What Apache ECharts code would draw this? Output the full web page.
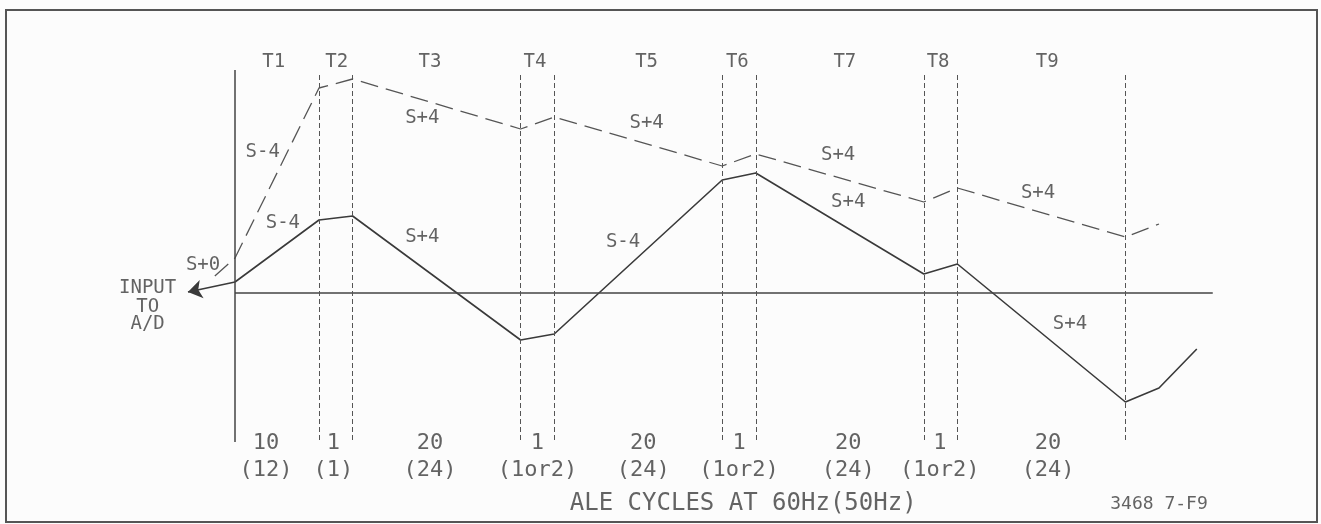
<!DOCTYPE html>
<html>
<head>
<meta charset="utf-8">
<script src="https://cdn.jsdelivr.net/npm/echarts@6/dist/echarts.min.js"></script>
<style>
  html, body { margin: 0; padding: 0; background: #fcfcfc; }
  #chart { width: 1321px; height: 524px; }
</style>
</head>
<body>
<div id="chart"></div>
<script>
  // x in layout units (1 ALE cycle of a long phase = 1 unit, short phases drawn 4 units wide)
  // y in arbitrary integrator units, 0 = baseline
  const boundaryX = [10, 14, 34, 38, 58, 62, 82, 86, 106]
  const solidX = [0, 10, 14, 34, 38, 58, 62, 82, 86, 106, 110, 114.5]
  const solidY = [11, 73, 77, -47, -41, 113, 120, 19, 29, -109, -95, -56]
  const dashX = [-2.4, 0, 10, 14, 34, 38, 58, 62, 82, 86, 106, 110]
  const dashY = [17, 35, 205, 214, 164, 176, 127, 139, 91, 105, 56, 69]
  const arrowFrom = [0, 11]
  const arrowTo = [-5.6, 1]

  const phaseNames = ['T1', 'T2', 'T3', 'T4', 'T5', 'T6', 'T7', 'T8', 'T9']
  const phaseX = [4.6, 12.1, 23.2, 35.7, 49, 59.8, 72.6, 83.7, 96.7]
  const cycles60 = ['10', '1', '20', '1', '20', '1', '20', '1', '20']
  const cycles50 = ['(12)', '(1)', '(24)', '(1or2)', '(24)', '(1or2)', '(24)', '(1or2)', '(24)']
  const cyclesX = [3.7, 11.7, 23.2, 36, 48.6, 60, 73, 83.9, 96.8]

  const slopeText = ['S+0', 'S-4', 'S-4', 'S+4', 'S+4', 'S+4', 'S-4', 'S+4', 'S+4', 'S+4', 'S+4']
  const slopeX = [-3.8, 3.3, 5.7, 22.3, 22.3, 49, 46.2, 71.8, 73, 95.6, 99.4]
  const slopeY = [28, 141, 70, 175, 56, 170, 51, 138, 91, 100, -31]

  const inputText = ['INPUT', 'TO', 'A/D']
  const inputY = [5, -14, -31]

  const FONT = '"DejaVu Sans Mono", monospace'
  const INK = '#3c3c3c'

  function textSeries (points, size) {
    return {
      type: 'scatter',
      symbolSize: 0,
      silent: true,
      data: points.map(p => ({ value: [p[0], p[1]], name: p[2] })),
      label: {
        show: true,
        position: 'inside',
        formatter: (d) => d.name,
        fontFamily: FONT,
        fontSize: size,
        color: INK
      }
    }
  }

  const chart = echarts.init(document.getElementById('chart'))
  const vLines = boundaryX.map(x => [{ coord: [x, 218] }, { coord: [x, -149] }])

  chart.setOption({
    animation: false,
    backgroundColor: '#fcfcfc',
    grid: { left: 109, right: 36, top: 20, bottom: 11 },
    xAxis: { type: 'value', min: -15, max: 125, show: false },
    yAxis: { type: 'value', min: -220, max: 273, show: false },
    graphic: [{
      type: 'rect',
      shape: { x: 6, y: 10, width: 1311, height: 512 },
      style: { fill: 'none', stroke: '#555', lineWidth: 2 },
      silent: true
    }],
    series: [
      {
        // frame lines: baseline, time origin, phase boundaries
        type: 'line',
        data: [],
        markLine: {
          silent: true,
          symbol: 'none',
          label: { show: false },
          data: [
            [{ coord: [0, 0], lineStyle: { type: 'solid', width: 1.5, color: '#444' } }, { coord: [116.4, 0] }],
            [{ coord: [0, 223], lineStyle: { type: 'solid', width: 1.5, color: '#444' } }, { coord: [0, -149] }]
          ].concat(vLines),
          lineStyle: { type: [5, 3], width: 1, color: '#555' }
        }
      },
      {
        name: 'solid',
        type: 'line',
        symbol: 'none',
        data: solidX.map((x, i) => [x, solidY[i]]),
        lineStyle: { color: '#3a3a3a', width: 1.6 }
      },
      {
        name: 'dashed',
        type: 'line',
        symbol: 'none',
        data: dashX.map((x, i) => [x, dashY[i]]),
        lineStyle: { color: '#555', width: 1.3, type: [18, 8] }
      },
      {
        type: 'lines',
        coordinateSystem: 'cartesian2d',
        symbol: ['none', 'arrow'],
        symbolSize: [7, 14],
        data: [{ coords: [arrowFrom, arrowTo] }],
        lineStyle: { color: '#3a3a3a', width: 1.6, opacity: 1 }
      },
      textSeries(phaseNames.map((t, i) => [phaseX[i], 231, t]), 19),
      textSeries(slopeText.map((t, i) => [slopeX[i], slopeY[i], t]), 19),
      textSeries(inputText.map((t, i) => [-10.4, inputY[i], t]), 19),
      textSeries(cycles60.map((t, i) => [cyclesX[i], -150, t]), 22),
      textSeries(cycles50.map((t, i) => [cyclesX[i], -177, t]), 22),
      textSeries([[60.5, -211, 'ALE CYCLES AT 60Hz(50Hz)']], 24),
      textSeries([[110, -211, '3468 7-F9']], 18)
    ]
  })
</script>
</body>
</html>
